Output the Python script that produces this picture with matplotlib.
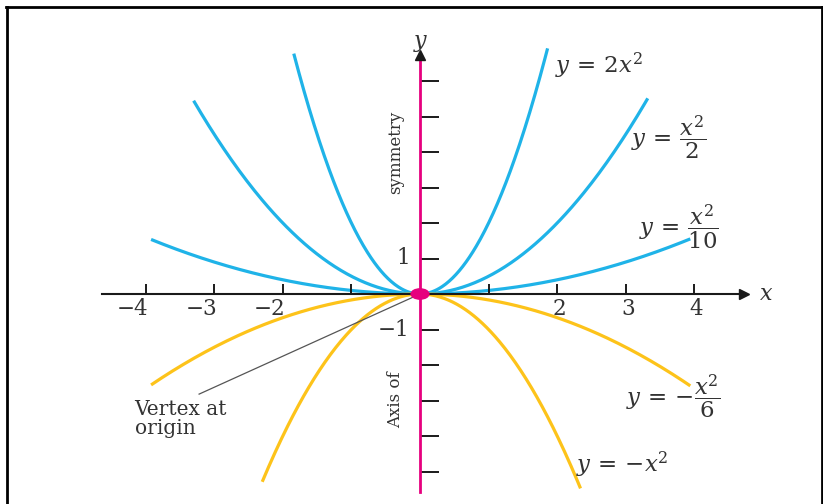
import numpy as np
import matplotlib.pyplot as plt
from matplotlib.lines import Line2D
from matplotlib.patches import Ellipse

plt.rcParams['font.family'] = ['DejaVu Serif']
plt.rcParams['mathtext.fontset'] = 'dejavuserif'

# curves y = a*x^2, with the x extent each one is drawn over
curve_labels = [r'$y\,=\,2x^2$', r'$y\,=\,\dfrac{x^2}{2}$', r'$y\,=\,\dfrac{x^2}{10}$',
                r'$y\,=\,{-}\dfrac{x^2}{6}$', r'$y\,=\,{-}x^2$']
curve_coefs = [2.0, 1 / 2, 1 / 10, -1 / 6, -1.0]
curve_xmin = [-1.84, -3.30, -3.92, -3.92, -2.30]
curve_xmax = [1.86, 3.32, 3.94, 3.94, 2.34]

x_ticks = [-4, -3, -2, -1, 1, 2, 3, 4]
x_ticklabels = ['\u22124', '\u22123', '\u22122', '', '', '2', '3', '4']
y_ticks = [-5, -4, -3, -2, -1, 1, 2, 3, 4, 5, 6]
y_ticklabels = {1: '1', -1: '\u22121'}
vertex = (0.0, 0.0)

# where each curve label sits (left edge, vertical centre)
label_pos = [(1.97, 6.42), (3.07, 4.39), (3.19, 1.89), (3.0, -2.90), (2.28, -4.82)]

BLUE = '#1fb3e8'
GOLD = '#fdc31a'
PINK = '#e6007e'
TXT = '#333333'

fig = plt.figure(figsize=(8.23, 5.04), dpi=100)
ax = fig.add_axes([0, 0, 1, 1])
# 68.6 px per x unit, 35.5 px per y unit, origin at pixel (420, 294)
ax.set_xlim(-420 / 68.6, 403 / 68.6)
ax.set_ylim(-210 / 35.5, 294 / 35.5)
ax.axis('off')

# x axis with arrow
ax.plot([-4.63, 4.7], [0, 0], color='#1a1a1a', lw=1.5, zorder=2)
ax.plot([4.72], [0], marker='>', color='#1a1a1a', ms=7, zorder=2)
ax.text(5.04, 0, 'x', style='italic', fontsize=16, color=TXT, va='center', ha='center')
ax.vlines(x_ticks, 0, 0.28, color='#1a1a1a', lw=1.4)
for xt, lab in zip(x_ticks, x_ticklabels):
    off = -0.19 if xt < 0 else 0.03
    ax.text(xt + off, -0.42, lab, fontsize=15.5, color=TXT, ha='center', va='center')

# y axis (axis of symmetry)
ax.plot([0, 0], [-5.57, 6.7], color=PINK, lw=2.0, zorder=3)
ax.plot([0], [6.72], marker='^', color='#1a1a1a', ms=7, zorder=3)
ax.text(0, 7.12, 'y', style='italic', fontsize=16, color=TXT, va='center', ha='center')
ax.hlines(y_ticks, 0, 0.27, color='#1a1a1a', lw=1.4)
for yt, lab in y_ticklabels.items():
    ax.text(-0.15, yt, lab, fontsize=15.5, color=TXT, ha='right', va='center')
ax.text(-0.35, 4.0, 'symmetry', rotation=90, fontsize=12, color=TXT, ha='center', va='center')
ax.text(-0.35, -2.99, 'Axis of', rotation=90, fontsize=12, color=TXT, ha='center', va='center')

# parabolas
for a, x0, x1, lab, (lx, ly) in zip(curve_coefs, curve_xmin, curve_xmax, curve_labels, label_pos):
    xs = np.linspace(x0, x1, 300)
    ax.plot(xs, a * xs ** 2, color=BLUE if a > 0 else GOLD, lw=2.3, zorder=1,
            solid_capstyle='butt')
    ax.text(lx, ly, lab, fontsize=16.5, color=TXT, ha='left', va='center')

# vertex marker and callout
ax.add_patch(Ellipse(vertex, 0.26, 0.29, color=PINK, zorder=4))
ax.plot([vertex[0], -3.22], [vertex[1], -2.82], color='#555555', lw=0.9, zorder=1)
ax.text(-4.16, -3.52, 'Vertex at\norigin', fontsize=14.5, color=TXT, ha='left', va='center',
        linespacing=1.0)

# frame around the picture
for xs, ys in [([6 / 823, 822 / 823], [1 - 7 / 504] * 2),
               ([6.5 / 823] * 2, [0, 1 - 7 / 504]),
               ([821.5 / 823] * 2, [0, 1 - 7 / 504])]:
    fig.add_artist(Line2D(xs, ys, transform=fig.transFigure, color='black', lw=2))

fig.savefig('out.png', dpi=100)
